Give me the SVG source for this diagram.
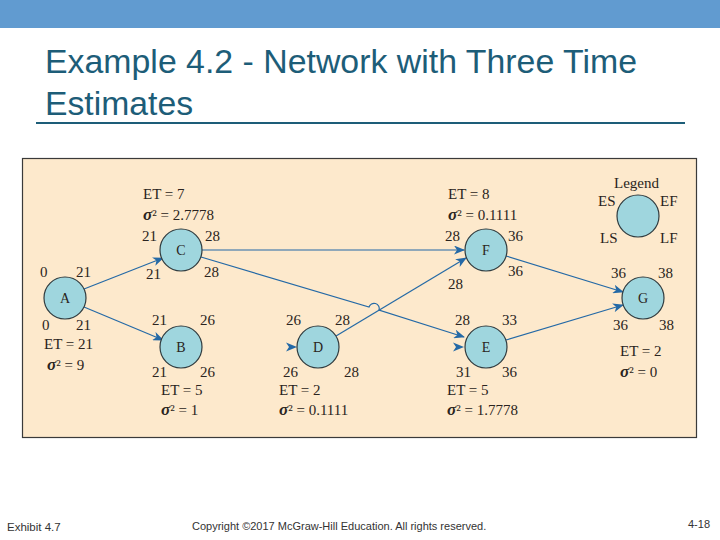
<svg xmlns="http://www.w3.org/2000/svg" width="720" height="540" viewBox="0 0 720 540">
<defs>
<marker id="ah" markerWidth="11" markerHeight="9" refX="10" refY="4.5" orient="auto" markerUnits="userSpaceOnUse">
<path d="M0,0 L11,4.5 L0,9 L3,4.5 Z" fill="#2469a6"/>
</marker>
<style>
.n{fill:#9fd6de;stroke:#2f3b3f;stroke-width:1.2}
.t{font-family:"Liberation Serif",serif;font-size:15px;fill:#2a2420}
.nl{font-family:"Liberation Serif",serif;font-size:14px;fill:#2a2420;text-anchor:middle}
.s{font-weight:bold;font-style:italic;font-size:17px}
.c{fill:none;stroke:#2469a6;stroke-width:1.2}
.f{font-family:"Liberation Sans",Arial,sans-serif;fill:#333}
</style>
</defs>
<rect x="0" y="0" width="720" height="540" fill="#ffffff"/>
<rect x="0" y="0" width="720" height="28" fill="#619bd0"/>
<g id="title">
<text x="45" y="73" font-family="Liberation Sans, Arial, sans-serif" font-size="33" fill="#1d5d78" textLength="592" lengthAdjust="spacingAndGlyphs">Example 4.2 - Network with Three Time</text>
<text x="45" y="115" font-family="Liberation Sans, Arial, sans-serif" font-size="33" fill="#1d5d78" textLength="148" lengthAdjust="spacingAndGlyphs">Estimates</text>
<line x1="36" y1="123" x2="685" y2="123" stroke="#1d5d78" stroke-width="2"/>
</g>
<rect x="22.5" y="158.5" width="674" height="279" fill="#fde9cc" stroke="#3a3a3a" stroke-width="1.2"/>
<g id="connectors">
<line class="c" x1="84" y1="289" x2="163" y2="258" marker-end="url(#ah)"/>
<line class="c" x1="84" y1="307" x2="163" y2="340" marker-end="url(#ah)"/>
<line class="c" x1="202" y1="250" x2="464" y2="250" marker-end="url(#ah)"/>
<path class="c" d="M201,257 L369,307 A5,5 0 0 1 379,310 L464,337" marker-end="url(#ah)"/>
<line class="c" x1="336" y1="336" x2="466" y2="258" marker-end="url(#ah)"/>
<line class="c" x1="506" y1="256" x2="623" y2="292" marker-end="url(#ah)"/>
<line class="c" x1="506" y1="340" x2="623" y2="305" marker-end="url(#ah)"/>
<path d="M286,342.5 L297,347 L286,351.5 L289,347 Z" fill="#2469a6"/>
<path d="M453,342.5 L464,347 L453,351.5 L456,347 Z" fill="#2469a6"/>
</g>
<g id="A">
<circle class="n" cx="65" cy="298" r="21"/>
<text class="nl" x="65" y="303">A</text>
<text class="t" x="40" y="277">0</text><text class="t" x="76" y="277">21</text>
<text class="t" x="42" y="330">0</text><text class="t" x="76" y="330">21</text>
<text class="t" x="44" y="349">ET = 21</text>
<text class="t" x="47" y="370"><tspan class="s">σ</tspan>² = 9</text>
</g>
<g id="C">
<circle class="n" cx="181" cy="250" r="21"/>
<text class="nl" x="181" y="255">C</text>
<text class="t" x="143" y="199">ET = 7</text>
<text class="t" x="143" y="220"><tspan class="s">σ</tspan>² = 2.7778</text>
<text class="t" x="142" y="241">21</text><text class="t" x="205" y="241">28</text>
<text class="t" x="146" y="279">21</text><text class="t" x="204" y="277">28</text>
</g>
<g id="B">
<circle class="n" cx="181" cy="347" r="21"/>
<text class="nl" x="181" y="352">B</text>
<text class="t" x="152" y="325">21</text><text class="t" x="200" y="325">26</text>
<text class="t" x="152" y="377">21</text><text class="t" x="200" y="377">26</text>
<text class="t" x="161" y="395">ET = 5</text>
<text class="t" x="161" y="415"><tspan class="s">σ</tspan>² = 1</text>
</g>
<g id="D">
<circle class="n" cx="318" cy="347" r="21"/>
<text class="nl" x="318" y="352">D</text>
<text class="t" x="286" y="325">26</text><text class="t" x="335" y="325">28</text>
<text class="t" x="283" y="377">26</text><text class="t" x="344" y="377">28</text>
<text class="t" x="279" y="395">ET = 2</text>
<text class="t" x="279" y="415"><tspan class="s">σ</tspan>² = 0.1111</text>
</g>
<g id="E">
<circle class="n" cx="486" cy="347" r="21"/>
<text class="nl" x="486" y="352">E</text>
<text class="t" x="455" y="325">28</text><text class="t" x="502" y="325">33</text>
<text class="t" x="456" y="377">31</text><text class="t" x="502" y="377">36</text>
<text class="t" x="447" y="395">ET = 5</text>
<text class="t" x="447" y="415"><tspan class="s">σ</tspan>² = 1.7778</text>
</g>
<g id="F">
<circle class="n" cx="486" cy="250" r="21"/>
<text class="nl" x="486" y="255">F</text>
<text class="t" x="448" y="199">ET = 8</text>
<text class="t" x="448" y="220"><tspan class="s">σ</tspan>² = 0.1111</text>
<text class="t" x="445" y="241">28</text><text class="t" x="508" y="241">36</text>
<text class="t" x="448" y="289">28</text><text class="t" x="508" y="276">36</text>
</g>
<g id="G">
<circle class="n" cx="643" cy="298" r="21"/>
<text class="nl" x="643" y="303">G</text>
<text class="t" x="611" y="278">36</text><text class="t" x="658" y="278">38</text>
<text class="t" x="613" y="330">36</text><text class="t" x="659" y="330">38</text>
<text class="t" x="620" y="356">ET = 2</text>
<text class="t" x="620" y="377"><tspan class="s">σ</tspan>² = 0</text>
</g>
<g id="legend">
<circle class="n" cx="638" cy="216" r="21"/>
<text class="t" x="614" y="188">Legend</text>
<text class="t" x="598" y="206">ES</text><text class="t" x="660" y="206">EF</text>
<text class="t" x="600" y="243">LS</text><text class="t" x="660" y="243">LF</text>
</g>
<g id="footer">
<text class="f" x="7" y="531" font-size="11.5">Exhibit 4.7</text>
<text class="f" x="192" y="530" font-size="11">Copyright ©2017 McGraw-Hill Education. All rights reserved.</text>
<text class="f" x="688" y="528" font-size="11">4-18</text>
</g>
</svg>
